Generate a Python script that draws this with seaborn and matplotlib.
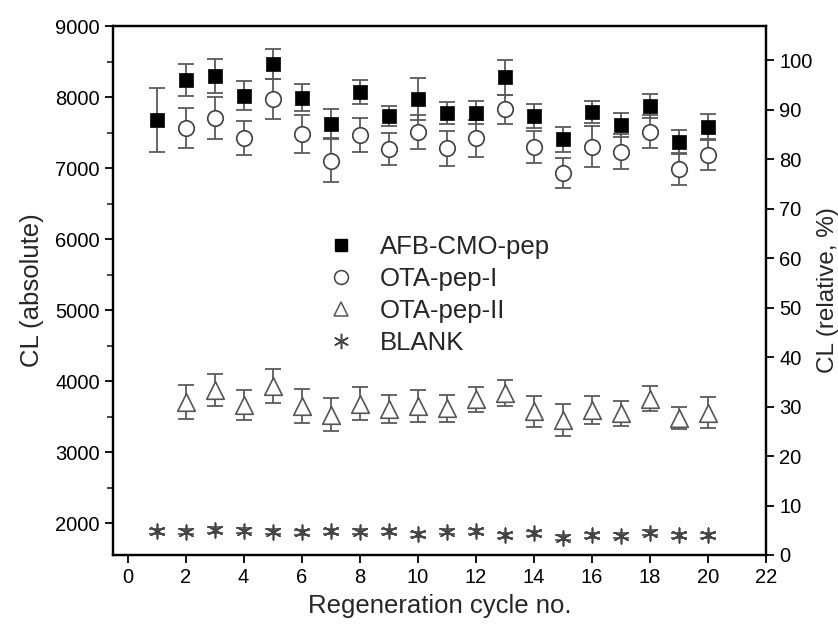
import matplotlib
matplotlib.use("Agg")
import matplotlib.pyplot as plt
import seaborn as sns
import numpy as np
import pandas as pd
from matplotlib.ticker import MultipleLocator
from matplotlib.lines import Line2D

cycles = list(range(1, 21))

afb_x = cycles
afb = [7676, 8239, 8300, 8018, 8465, 7990, 7624, 8075, 7732, 7972,
       7770, 7779, 8277, 7732, 7404, 7793, 7606, 7873, 7371, 7582]
afb_err = [445, 225, 240, 205, 215, 190, 205, 170, 140, 290,
           155, 165, 245, 175, 175, 155, 170, 170, 170, 180]

ota1_x = cycles[1:]
ota1 = [7568, 7700, 7418, 7967, 7479, 7103, 7465, 7263, 7502, 7277,
        7418, 7826, 7291, 6925, 7300, 7230, 7511, 6986, 7183]
ota1_err = [280, 295, 240, 280, 265, 300, 245, 225, 240, 245,
            260, 205, 225, 210, 285, 245, 235, 230, 205]

ota2_x = cycles[1:]
ota2 = [3704, 3870, 3662, 3930, 3650, 3528, 3681, 3610, 3650, 3617,
        3740, 3833, 3573, 3450, 3591, 3547, 3753, 3481, 3552]
ota2_err = [240, 225, 210, 235, 235, 230, 230, 195, 225, 190,
            170, 180, 215, 220, 200, 175, 175, 150, 220]

blank_x = cycles
blank = [1887, 1878, 1905, 1892, 1878, 1869, 1887, 1878, 1887, 1840,
         1878, 1887, 1831, 1854, 1793, 1831, 1822, 1864, 1831, 1831]
blank_err = [35, 35, 40, 35, 35, 35, 35, 35, 35, 35,
             35, 35, 35, 35, 35, 35, 35, 35, 35, 35]

series_names = ["AFB-CMO-pep", "OTA-pep-I", "OTA-pep-II", "BLANK"]

sns.set_theme(style="ticks")
plt.rcParams['font.family'] = ['Liberation Sans', 'DejaVu Sans']

fig = plt.figure(figsize=(8.38, 6.37), dpi=100)
ax = fig.add_axes([113/838, 1-555/637, (766-113)/838, (555-26)/637])

ecol = "#5a5a5a"
ekw = dict(fmt='none', ecolor=ecol, elinewidth=1.3, capsize=6, capthick=1.3, zorder=2)

ax.errorbar(afb_x, afb, yerr=afb_err, **ekw)
ax.errorbar(ota1_x, ota1, yerr=ota1_err, **ekw)
ax.errorbar(ota2_x, ota2, yerr=ota2_err, **ekw)
ax.errorbar(blank_x, blank, yerr=blank_err, **ekw)

df_afb = pd.DataFrame({"x": afb_x, "y": afb})
df_o1 = pd.DataFrame({"x": ota1_x, "y": ota1})
df_o2 = pd.DataFrame({"x": ota2_x, "y": ota2})
df_b = pd.DataFrame({"x": blank_x, "y": blank})

sns.scatterplot(data=df_afb, x="x", y="y", ax=ax, marker="s", s=95,
                color="black", edgecolor="black", linewidth=0.5, zorder=3)
sns.scatterplot(data=df_o1, x="x", y="y", ax=ax, marker="o", s=125,
                facecolor="white", edgecolor="#404040", linewidth=1.2, zorder=3)
sns.scatterplot(data=df_o2, x="x", y="y", ax=ax, marker="^", s=160,
                facecolor="white", edgecolor="#555555", linewidth=1.2, zorder=3)
sns.scatterplot(data=df_b, x="x", y="y", ax=ax, marker=(6, 2, 0), s=110,
                color="#444444", edgecolor="#444444", linewidth=1.2, zorder=3)

ax.set_xlim(-0.5, 22)
ax.set_ylim(1550, 9000)
ax.xaxis.set_major_locator(MultipleLocator(2))
ax.yaxis.set_major_locator(MultipleLocator(1000))
ax.yaxis.set_minor_locator(MultipleLocator(500))
ax.tick_params(axis='both', which='major', direction='out', length=6, width=1.3,
               labelsize=14.5, colors='black')
ax.tick_params(axis='y', which='minor', direction='out', length=4, width=1.2)
for sp in ax.spines.values():
    sp.set_visible(True)
    sp.set_linewidth(1.6)
    sp.set_color('black')

ax.set_xlabel("Regeneration cycle no.", fontsize=18.5, labelpad=5)
ax.set_ylabel("CL (absolute)", fontsize=18.5, labelpad=8)

ax2 = ax.twinx()
ax2.set_ylim(0, 106.9)
ax2.yaxis.set_major_locator(MultipleLocator(10))
ax2.tick_params(axis='y', direction='out', length=6, width=1.3, labelsize=14.5, colors='black')
ax2.set_ylabel("CL (relative, %)", fontsize=17.5, labelpad=3)
for sp in ax2.spines.values():
    sp.set_visible(True)
    sp.set_linewidth(1.6)
    sp.set_color('black')

handles = [
    Line2D([], [], linestyle='none', marker='s', markersize=9, color='black'),
    Line2D([], [], linestyle='none', marker='o', markersize=10, markerfacecolor='white',
           markeredgecolor='#404040', markeredgewidth=1.1),
    Line2D([], [], linestyle='none', marker='^', markersize=10, markerfacecolor='white',
           markeredgecolor='#555555', markeredgewidth=1.1),
    Line2D([], [], linestyle='none', marker=(6, 2, 0), markersize=11, color='#444444',
           markeredgewidth=1.1),
]
ax.legend(handles, series_names, loc='upper left', bbox_to_anchor=(0.31, 0.625),
          frameon=False, fontsize=18.5, labelspacing=0.32, handletextpad=0.9,
          borderaxespad=0, handlelength=1.2)

fig.savefig("out.png", dpi=100)
